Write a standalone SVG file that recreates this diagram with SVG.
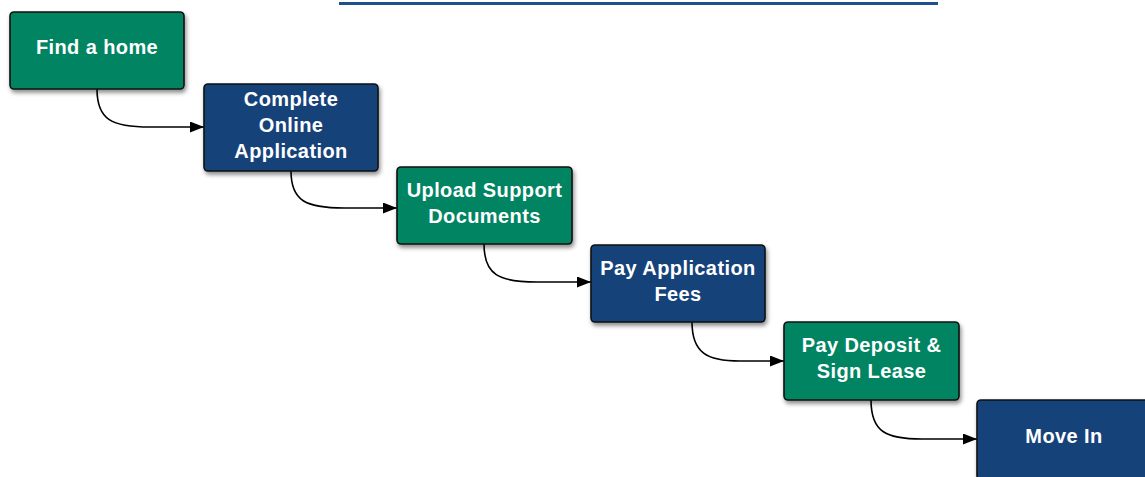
<svg xmlns="http://www.w3.org/2000/svg" width="1145" height="477" viewBox="0 0 1145 477">
<defs>
<filter id="sh" x="-10%" y="-10%" width="130%" height="140%">
<feDropShadow dx="1.5" dy="3" stdDeviation="2.2" flood-color="#000" flood-opacity="0.45"/>
</filter>
<marker id="arr" viewBox="0 0 14 11" refX="14" refY="5.5" markerWidth="14" markerHeight="11" markerUnits="userSpaceOnUse" orient="auto">
<path d="M0,0 L14,5.5 L0,11 Z" fill="#000"/>
</marker>
</defs>
<style>
.g{fill:#058462;stroke:#111;stroke-width:1.6}
.b{fill:#13427a;stroke:#111;stroke-width:1.6}
.t{fill:#fff;font-family:"Liberation Sans",Arial,sans-serif;font-weight:bold;font-size:20px;letter-spacing:0.4px;text-anchor:middle}
.c{fill:none;stroke:#000;stroke-width:1.6}
</style>
<rect width="1145" height="477" fill="#fff"/>
<line x1="339" y1="3.5" x2="938" y2="3.5" stroke="#1f4f8c" stroke-width="3"/>
<g id="connectors">
<path class="c" d="M97,89 C97,120 112,127 150,127 L204,127" marker-end="url(#arr)"/>
<path class="c" d="M291,171 C291,201 306,208 344,208 L397,208" marker-end="url(#arr)"/>
<path class="c" d="M484,244 C484,275 499,282 537,282 L591,282" marker-end="url(#arr)"/>
<path class="c" d="M692,322 C692,353 707,361 740,361 L784,361" marker-end="url(#arr)"/>
<path class="c" d="M871,400 C871,432 886,439 922,439 L977,439" marker-end="url(#arr)"/>
</g>
<g id="n1"><rect class="g" x="10" y="12" width="174" height="77" rx="4" filter="url(#sh)"/><text class="t" x="97" y="54">Find a home</text></g>
<g id="n2"><rect class="b" x="204" y="84" width="174" height="87" rx="4" filter="url(#sh)"/><text class="t" x="291" y="106">Complete</text><text class="t" x="291" y="132">Online</text><text class="t" x="291" y="158">Application</text></g>
<g id="n3"><rect class="g" x="397" y="167" width="175" height="77" rx="4" filter="url(#sh)"/><text class="t" x="484.5" y="197">Upload Support</text><text class="t" x="484.5" y="223">Documents</text></g>
<g id="n4"><rect class="b" x="591" y="245" width="174" height="77" rx="4" filter="url(#sh)"/><text class="t" x="678" y="275">Pay Application</text><text class="t" x="678" y="301">Fees</text></g>
<g id="n5"><rect class="g" x="784" y="322" width="175" height="78" rx="4" filter="url(#sh)"/><text class="t" x="871.5" y="352">Pay Deposit &amp;</text><text class="t" x="871.5" y="378">Sign Lease</text></g>
<g id="n6"><rect class="b" x="977" y="400" width="174" height="80" rx="4" filter="url(#sh)"/><text class="t" x="1064" y="443">Move In</text></g>
</svg>
